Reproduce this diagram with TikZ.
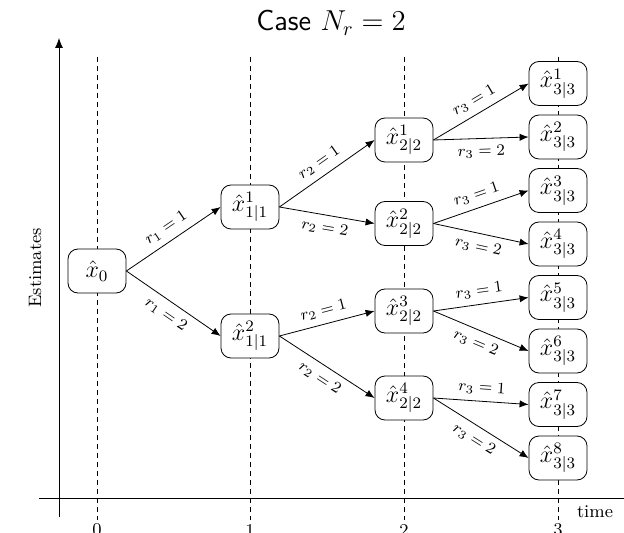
\documentclass[tikz,border=0pt]{standalone}
\usepackage{xcolor}
\usepackage{tikz}
\usetikzlibrary{arrows.meta,positioning}

\begin{document}
\begin{tikzpicture}[
    x=0.5pt, y=-0.5pt,
    node distance=4.35pt,
    est/.style={draw, rounded corners=5pt, minimum width=29pt, minimum height=22pt, inner sep=1pt, fill=white, font=\large},
    br/.style={-{Latex[length=4.5pt,width=3.6pt]}},
    lb/.style={font=\footnotesize, sloped},
    tl/.style={dash pattern=on 2.5pt off 2pt}
  ]
    \useasboundingbox (0,0) rectangle (624,533);

    % time grid and axes
    \draw[tl] (97,57) -- (97,520);
    \draw[tl] (250,57) -- (250,520);
    \draw[tl] (404,57) -- (404,520);
    \draw[tl] (558,57) -- (558,520);
    \draw[-{Latex[length=5pt,width=4pt]}] (59,517) -- (59,38);
    \draw (39,498) -- (624,498);

    \node[font=\small, rotate=90] (ylab) at (35,268) {Estimates};
    \node[font=\small] (xlab) at (595,512) {time};
    \node[font=\small] (t0) at (97,530) {0};
    \node[font=\small] (t1) at (250,530) {1};
    \node[font=\small] (t2) at (404,530) {2};
    \node[font=\small] (t3) at (558,530) {3};
    \node[font=\Large\sffamily] (title) at (331,23) {Case $N_r = 2$};

    % estimates
    \node[est] (x0) at (97,271) {$\hat{x}_0$};
    \node[est] (x11) at (250,207) {$\hat{x}^1_{1|1}$};
    \node[est] (x12) at (250,336) {$\hat{x}^2_{1|1}$};
    \node[est] (x21) at (404,140) {$\hat{x}^1_{2|2}$};
    \node[est] (x22) at (404,223.5) {$\hat{x}^2_{2|2}$};
    \node[est] (x23) at (404,311) {$\hat{x}^3_{2|2}$};
    \node[est] (x24) at (404,398) {$\hat{x}^4_{2|2}$};
    \node[est] (x31) at (558,83.5) {$\hat{x}^1_{3|3}$};
    \node[est, below=of x31] (x32) {$\hat{x}^2_{3|3}$};
    \node[est, below=of x32] (x33) {$\hat{x}^3_{3|3}$};
    \node[est, below=of x33] (x34) {$\hat{x}^4_{3|3}$};
    \node[est, below=of x34] (x35) {$\hat{x}^5_{3|3}$};
    \node[est, below=of x35] (x36) {$\hat{x}^6_{3|3}$};
    \node[est, below=of x36] (x37) {$\hat{x}^7_{3|3}$};
    \node[est, below=of x37] (x38) {$\hat{x}^8_{3|3}$};

    % branches
    \draw[br] (x0.east) -- node[lb, above] {$r_1 = 1$} (x11.west);
    \draw[br] (x0.east) -- node[lb, below] {$r_1 = 2$} (x12.west);
    \draw[br] (x11.east) -- node[lb, above] {$r_2 = 1$} (x21.west);
    \draw[br] (x11.east) -- node[lb, below] {$r_2 = 2$} (x22.west);
    \draw[br] (x12.east) -- node[lb, above] {$r_2 = 1$} (x23.west);
    \draw[br] (x12.east) -- node[lb, below] {$r_2 = 2$} (x24.west);
    \draw[br] (x21.east) -- node[lb, above] {$r_3 = 1$} (x31.west);
    \draw[br] (x21.east) -- node[lb, below] {$r_3 = 2$} (x32.west);
    \draw[br] (x22.east) -- node[lb, above] {$r_3 = 1$} (x33.west);
    \draw[br] (x22.east) -- node[lb, below] {$r_3 = 2$} (x34.west);
    \draw[br] (x23.east) -- node[lb, above] {$r_3 = 1$} (x35.west);
    \draw[br] (x23.east) -- node[lb, below] {$r_3 = 2$} (x36.west);
    \draw[br] (x24.east) -- node[lb, above] {$r_3 = 1$} (x37.west);
    \draw[br] (x24.east) -- node[lb, below] {$r_3 = 2$} (x38.west);
\end{tikzpicture}
\end{document}
